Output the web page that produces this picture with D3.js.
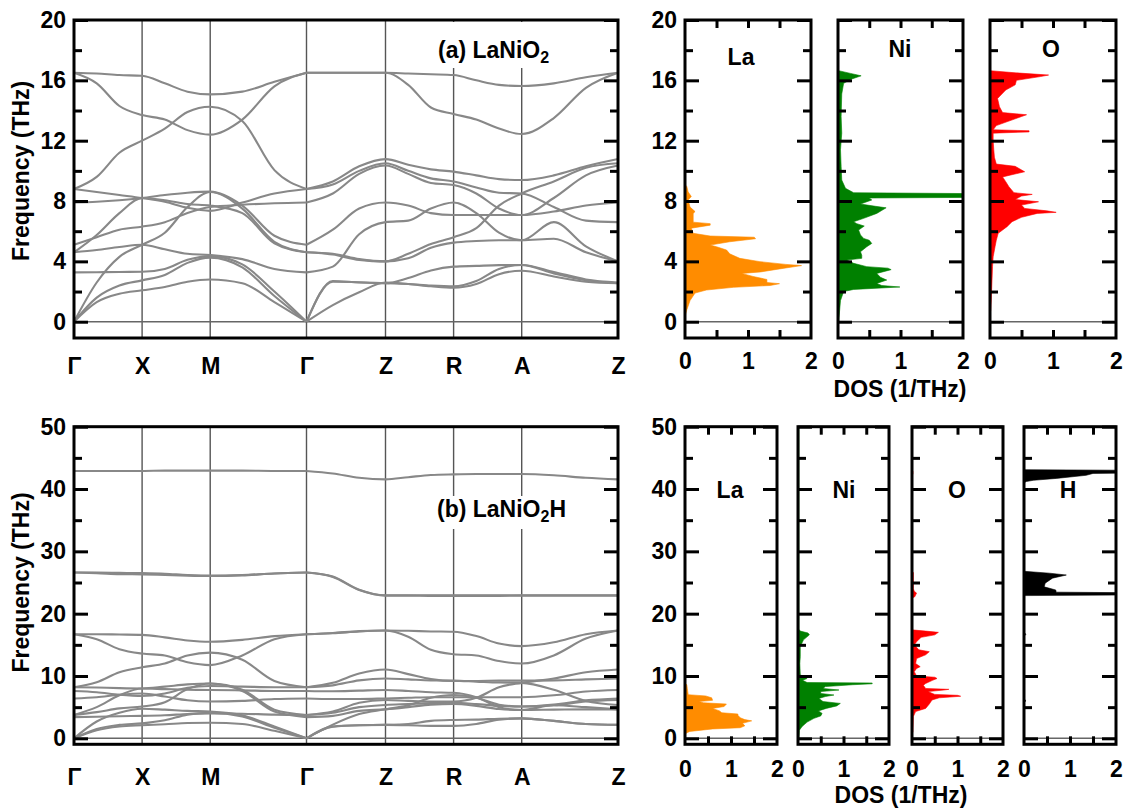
<!DOCTYPE html>
<html><head><meta charset="utf-8">
<script src="https://cdn.jsdelivr.net/npm/d3@7"></script>
<style>
body{margin:0;background:#fff}
text{font-family:"Liberation Sans",Arial,sans-serif;font-weight:bold;fill:#000}
</style>
</head><body>
<svg id="c" width="1128" height="809"></svg>
<script>
// ---------- DATA ----------
const kLabels = ["Γ","X","M","Γ","Z","R","A","Z"];
const kPos = [0, 0.5, 1.0, 1.707, 2.287, 2.787, 3.287, 3.994];

// LaNiO2 phonon branches (THz), sampled at each high-symmetry point and two points in between
const bandsA = [
 [16.5,16.45,16.35,16.3, 15.8,15.25,15.07, 15.25,15.9,16.5, 16.5,16.5,16.5, 16.45,16.4,16.35, 16.0,15.7,15.62, 15.8,16.2,16.5],
 [16.5,15.8,14.3,13.7, 13.4,12.7,12.4, 13.4,15.6,16.5, 16.5,16.5,16.5, 15.7,14.2,13.77, 13.4,12.8,12.44, 13.5,15.5,16.5],
 [8.8,9.6,11.2,12.0, 12.8,13.9,14.25, 13.3,10.05,8.8, 9.3,10.3,10.78, 10.4,10.1,9.95, 9.7,9.45,9.39, 9.7,10.3,10.78],
 [8.8,8.6,8.4,8.2, 7.95,7.55,7.35, 7.9,8.5,8.8, 9.1,10.0,10.5, 10.0,9.5,9.3, 8.9,8.55,8.5, 7.6,6.7,6.6],
 [7.9,7.95,8.05,8.2, 8.4,8.55,8.62, 7.7,5.7,5.1, 6.1,7.5,7.9, 7.7,7.2,7.07, 7.07,7.07,7.07, 7.3,7.7,7.9],
 [5.1,5.6,6.1,6.3, 6.6,7.2,7.6, 7.75,7.85,7.9, 8.5,9.8,10.35, 9.8,9.2,9.06, 8.5,7.5,7.07, 8.2,9.7,10.35],
 [4.6,5.75,7.2,8.2, 8.05,7.8,7.7, 7.2,5.2,4.6, 4.5,4.15,4.0, 4.5,5.15,5.6, 6.2,7.7,8.5, 9.3,10.2,10.5],
 [4.6,4.75,4.95,5.1, 4.8,4.5,4.42, 4.15,3.5,3.27, 3.65,5.8,6.6, 6.7,7.5,7.9, 7.2,5.9,5.4, 6.6,5.0,4.0],
 [3.27,3.28,3.3,3.31, 3.5,4.1,4.35, 3.8,2.0,0, 2.7,2.6,2.55, 2.9,3.4,3.65, 3.7,3.75,3.76, 3.3,2.8,2.6],
 [0,2.6,4.3,5.1, 5.9,7.6,8.6, 7.5,5.3,4.6, 4.45,4.1,4.0, 4.2,4.9,5.24, 5.35,5.4,5.4, 5.5,4.6,4.0],
 [0,1.6,2.4,2.74, 3.1,3.9,4.25, 3.6,1.7,0, 2.65,2.62,2.55, 2.5,2.4,2.35, 2.7,3.5,3.76, 3.2,2.75,2.55],
 [0,1.3,1.85,2.08, 2.3,2.65,2.8, 2.55,1.3,0, 1.1,1.95,2.6, 2.5,2.35,2.25, 2.5,3.15,3.38, 3.0,2.65,2.55]
];

// LaNiO2H phonon branches (THz)
const bandsB = [
 [16.7,16.7,16.65,16.6, 16.2,15.7,15.5, 15.8,16.4,16.7, 16.9,17.2,17.3, 17.25,17.15,17.1, 16.4,15.2,14.8, 15.4,16.7,17.3],
 [16.7,15.9,14.3,13.6, 13.3,12.2,11.75, 13.3,15.9,16.7, 16.85,17.15,17.3, 16.3,14.2,13.5, 13.3,12.4,12.0, 13.3,16.0,17.3],
 [8.2,9.0,10.6,11.4, 12.0,13.3,13.75, 12.6,9.2,8.2, 8.9,10.4,11.05, 10.3,9.5,9.2, 9.2,9.25,9.25, 9.3,9.45,9.6],
 [8.2,8.15,8.05,8.0, 8.3,8.65,8.8, 7.8,4.6,3.75, 4.3,5.7,6.15, 6.0,5.9,5.9, 6.5,8.2,8.9, 9.6,10.6,11.05],
 [7.6,7.4,7.0,6.8, 7.2,8.1,8.4, 8.3,8.2,8.2, 8.5,9.3,9.6, 9.45,9.3,9.25, 9.1,8.95,8.9, 7.8,6.0,5.35],
 [6.4,6.6,7.0,7.2, 6.7,6.1,5.9, 6.0,6.3,6.4, 6.3,6.3,6.4, 6.5,6.6,6.6, 6.6,6.6,6.6, 6.9,7.5,7.75],
 [3.75,5.0,6.9,8.0, 7.9,7.8,7.75, 7.7,7.6,7.6, 7.55,7.65,7.75, 7.6,7.4,7.3, 6.6,5.0,4.55, 5.3,5.0,4.65],
 [3.75,4.2,4.8,5.1, 5.8,7.9,8.8, 7.6,4.3,3.4, 3.6,4.4,4.65, 5.0,5.4,5.5, 5.2,4.7,4.55, 4.6,4.65,4.65],
 [3.4,3.45,3.55,3.6, 3.7,3.9,4.0, 3.95,3.8,3.75, 4.1,5.0,5.35, 5.5,5.65,5.7, 5.5,5.2,5.1, 5.3,5.9,6.15],
 [0,2.7,4.1,4.75, 4.6,4.4,4.3, 3.7,1.9,0, 2.2,3.9,4.65, 5.3,6.5,6.95, 6.5,5.4,5.1, 5.4,6.1,6.4],
 [0,1.5,2.15,2.4, 2.9,3.8,4.1, 3.5,1.7,0, 1.9,2.1,2.15, 2.3,2.8,2.95, 3.0,3.15,3.2, 2.8,2.3,2.15],
 [0,1.3,1.9,2.1, 2.25,2.45,2.5, 2.3,1.2,0, 1.85,2.1,2.15, 2.1,2.0,2.0, 2.3,3.0,3.2, 2.8,2.3,2.15],
 [26.6,26.6,26.55,26.5, 26.4,26.2,26.1, 26.2,26.45,26.6, 25.95,23.85,22.95, 22.95,22.95,22.95, 22.95,22.95,22.95, 22.95,22.95,22.95],
 [26.6,26.5,26.35,26.3, 26.2,26.1,26.05, 26.15,26.45,26.6, 25.9,23.8,22.9, 22.9,22.85,22.85, 22.85,22.85,22.9, 22.9,22.9,22.9],
 [42.9,42.9,42.9,42.9, 42.95,42.95,42.95, 42.95,42.9,42.9, 42.5,41.8,41.55, 41.9,42.25,42.35, 42.4,42.4,42.4, 42.2,41.8,41.55]
];

// Projected DOS: [frequency (THz), DOS (1/THz)]
const dosLaA = [[0,0],[0.5,0.01],[0.8,0.03],[1.4,0.08],[1.9,0.16],[2.1,0.34],[2.28,0.77],[2.4,1.35],[2.52,1.5],[2.6,1.3],[2.8,1.3],[3.0,1.08],[3.2,0.9],[3.3,1.2],[3.5,1.5],[3.72,1.85],[3.8,1.6],[3.98,1.19],[4.2,0.87],[4.5,0.71],[4.75,0.66],[4.97,0.5],[5.08,0.4],[5.3,0.71],[5.5,1.12],[5.6,1.1],[5.68,0.4],[5.86,0.13],[6.2,0.1],[6.4,0.4],[6.5,0.4],[6.6,0.13],[7.18,0.13],[7.3,0.16],[7.6,0.08],[8.07,0.05],[8.3,0.1],[8.6,0.05],[8.95,0.03],[9.1,0]];
const dosNiA = [[0,0.01],[1.4,0.04],[2.0,0.09],[2.14,0.25],[2.3,0.99],[2.4,0.7],[2.54,0.62],[2.76,0.78],[2.94,0.68],[3.2,0.62],[3.45,0.85],[3.55,0.8],[3.65,0.46],[3.87,0.25],[4.09,0.14],[4.2,0.38],[4.4,0.38],[4.64,0.36],[4.97,0.46],[5.19,0.54],[5.4,0.5],[5.52,0.41],[5.75,0.36],[6.08,0.33],[6.34,0.42],[6.5,0.3],[6.63,0.25],[6.85,0.41],[7.18,0.62],[7.55,0.77],[7.65,0.6],[7.8,0.36],[8.07,0.54],[8.2,0.5],[8.25,2.5],[8.48,2.5],[8.55,0.25],[8.84,0.12],[9.39,0.06],[10.3,0.05],[11.4,0.04],[12.5,0.06],[13.6,0.05],[15.1,0.06],[15.8,0.09],[16.06,0.2],[16.3,0.37],[16.46,0.2],[16.64,0.01],[16.7,0]];
const dosOA = [[0.6,0],[0.7,0.01],[1.44,0.02],[3.65,0.04],[4.3,0.05],[4.97,0.08],[5.4,0.1],[5.86,0.13],[6.08,0.2],[6.3,0.27],[6.63,0.35],[6.92,0.5],[7.18,0.75],[7.25,1.05],[7.35,0.9],[7.51,0.55],[7.73,0.5],[7.95,0.77],[8.1,0.4],[8.33,0.5],[8.44,0.67],[8.55,0.38],[8.95,0.3],[9.28,0.25],[9.6,0.2],[9.94,0.55],[10.3,0.4],[10.45,0.1],[10.9,0.07],[11.4,0.06],[12.0,0.05],[12.5,0.05],[12.58,0.62],[12.66,0.62],[12.72,0.05],[13.0,0.1],[13.6,0.5],[13.72,0.58],[13.86,0.2],[14.25,0.15],[14.8,0.12],[15.36,0.25],[15.7,0.4],[16.0,0.42],[16.25,0.8],[16.35,0.93],[16.5,0.4],[16.64,0]];

const dosLaB = [[0.6,0],[0.8,0.02],[1.1,0.1],[1.5,0.6],[1.7,1.2],[2.0,1.3],[2.4,1.25],[2.6,1.35],[2.8,1.45],[3.0,1.3],[3.3,1.2],[3.7,1.15],[3.9,1.15],[4.1,0.8],[4.4,0.75],[4.8,0.6],[5.1,0.85],[5.5,0.9],[5.7,0.4],[5.9,0.3],[6.1,0.6],[6.5,0.58],[6.8,0.45],[7.0,0.07],[7.5,0.06],[8.0,0.05],[8.6,0.04],[8.8,0]];
const dosNiB = [[0,0.02],[1.3,0.03],[1.9,0.09],[2.6,0.2],[3.2,0.35],[3.6,0.5],[4.0,0.53],[4.4,0.45],[4.8,0.62],[5.2,0.85],[5.6,0.93],[5.9,0.55],[6.4,0.46],[6.7,0.6],[6.95,0.79],[7.2,0.5],[7.5,0.5],[7.75,0.9],[8.0,0.55],[8.3,0.6],[8.6,1.2],[8.75,1.63],[8.88,1.63],[8.95,0.2],[9.3,0.1],[9.6,0.2],[10.2,0.05],[12,0.04],[13.1,0.05],[14.7,0.05],[15.8,0.12],[16.6,0.25],[16.9,0.22],[17.2,0.05],[17.5,0.02],[50,0.02]];
const dosOB = [[0.8,0],[1.0,0.02],[3.5,0.03],[4.3,0.08],[4.8,0.3],[5.5,0.38],[6.15,0.44],[6.5,0.6],[6.75,1.07],[6.9,1.0],[7.05,0.5],[7.5,0.35],[7.75,0.7],[7.86,0.81],[8.0,0.3],[8.5,0.25],[8.8,0.3],[9.3,0.45],[9.6,0.55],[9.8,0.5],[10.0,0.1],[10.7,0.05],[11.2,0.1],[11.5,0.18],[12.0,0.08],[12.8,0.1],[13.4,0.3],[13.9,0.38],[14.2,0.15],[15.0,0.05],[15.5,0.1],[16.2,0.2],[16.6,0.5],[17.0,0.58],[17.2,0.3],[17.4,0],[22.5,0],[22.7,0.06],[23.3,0.1],[23.6,0.05],[24,0.03],[26.6,0.03],[26.8,0],[42.2,0],[42.4,0.02],[42.8,0.02],[43.0,0]];
const dosHB = [[0,0.01],[5.8,0.01],[6.0,0.04],[6.3,0.01],[16.4,0.01],[16.7,0.04],[17.0,0],[22.9,0],[23.0,2.5],[23.35,2.5],[23.45,0.7],[23.8,0.69],[24.3,0.44],[24.9,0.46],[25.7,0.62],[26.2,0.92],[26.5,0.55],[26.8,0],[41.0,0],[41.2,0.05],[41.4,0.2],[41.7,0.7],[42.2,1.35],[42.5,1.5],[42.6,2.5],[43.0,2.5],[43.1,0]];

const elementsA = ["La","Ni","O"];
const elementsB = ["La","Ni","O","H"];
const colorsA = ["#ff8c00","#008000","#ff0000"];
const colorsB = ["#ff8c00","#008000","#ff0000","#000000"];
const freqMajorA = [0,4,8,12,16,20], freqMinorA = [2,6,10,14,18];
const freqMajorB = [0,10,20,30,40,50], freqMinorB = [5,15,25,35,45];
const dosTickLabels = [0,1,2], dosMinorTicks = [0.5,1,1.5];

// ---------- DRAWING ----------
const svg = d3.select("#c");
const FS = 23;
const kSample = d3.range(22).map(i => {
  if (i === 21) return kPos[7];
  const s = Math.floor(i/3), f = (i%3)/3;
  return kPos[s] + f*(kPos[s+1]-kPos[s]);
});
let clipId = 0;

function styleAxis(g){
  g.select(".domain").remove();
  g.selectAll(".tick line").attr("stroke","#000").attr("stroke-width",3);
  g.selectAll(".tick text").attr("font-size",FS).attr("font-weight","bold")
    .attr("font-family","'Liberation Sans',Arial,sans-serif").attr("fill","#000");
}

function yTicks(g, y, x0, x1, major, minor, labels){
  const gl = g.append("g").attr("transform",`translate(${x0},0)`)
    .call(d3.axisLeft(y).tickValues(major).tickSize(-14).tickPadding(8)
      .tickFormat(labels ? d3.format("d") : ""));
  styleAxis(gl);
  styleAxis(g.append("g").attr("transform",`translate(${x0},0)`)
    .call(d3.axisLeft(y).tickValues(minor).tickSize(-8).tickFormat("")));
  styleAxis(g.append("g").attr("transform",`translate(${x1},0)`)
    .call(d3.axisRight(y).tickValues(major).tickSize(-14).tickFormat("")));
  styleAxis(g.append("g").attr("transform",`translate(${x1},0)`)
    .call(d3.axisRight(y).tickValues(minor).tickSize(-8).tickFormat("")));
}

function bandPanel(o){
  const g = svg.append("g");
  const x = d3.scaleLinear().domain([kPos[0], kPos[7]]).range([o.x0, o.x1]);
  const y = d3.scaleLinear().domain(o.yDomain).range([o.y1, o.y0]);
  g.selectAll("line.k").data(kPos.slice(1,-1)).join("line")
    .attr("x1",d=>x(d)).attr("x2",d=>x(d)).attr("y1",o.y0).attr("y2",o.y1)
    .attr("stroke","#555").attr("stroke-width",1.4);
  g.append("line").attr("x1",o.x0).attr("x2",o.x1).attr("y1",y(0)).attr("y2",y(0))
    .attr("stroke","#666").attr("stroke-width",1.5);
  const line = d3.line().x(d=>x(d[0])).y(d=>y(d[1])).curve(d3.curveMonotoneX);
  o.bands.forEach(b=>{
    const pts = b.map((v,i)=>[kSample[i], v]);
    [pts.slice(0,10), pts.slice(9)].forEach(p=>{
      g.append("path").attr("d", line(p)).attr("fill","none")
        .attr("stroke","#888").attr("stroke-width",2.1);
    });
  });
  // title with white background
  g.append("rect").attr("x",o.box[0]).attr("y",o.box[1]).attr("width",o.box[2]).attr("height",o.box[3]).attr("fill","#fff");
  const t = g.append("text").attr("x",o.titleX).attr("y",o.titleY).attr("font-size",FS);
  t.append("tspan").text(o.title[0]);
  t.append("tspan").attr("font-size",16).attr("dy",5).text("2");
  if (o.title[1]) t.append("tspan").attr("font-size",FS).attr("dy",-5).text(o.title[1]);
  // frame
  g.append("rect").attr("x",o.x0).attr("y",o.y0).attr("width",o.x1-o.x0).attr("height",o.y1-o.y0)
    .attr("fill","none").attr("stroke","#000").attr("stroke-width",3);
  yTicks(g, y, o.x0, o.x1, o.major, o.minor, true);
  const xa = g.append("g").attr("transform",`translate(0,${o.y1})`)
    .call(d3.axisBottom(x).tickValues(kPos).tickSize(0).tickPadding(o.xPad).tickFormat((d,i)=>kLabels[i]));
  styleAxis(xa);
  g.append("text").attr("transform",`translate(28.5,${y(o.yDomain[1]/2)}) rotate(-90)`)
    .attr("text-anchor","middle").attr("font-size",FS).text("Frequency (THz)");
}

function dosPanel(o){
  const g = svg.append("g");
  const x = d3.scaleLinear().domain([0,2]).range([o.x0,o.x1]);
  const y = d3.scaleLinear().domain(o.yDomain).range([o.y1,o.y0]);
  const id = "clip"+(clipId++);
  svg.append("clipPath").attr("id",id).append("rect")
    .attr("x",o.x0).attr("y",o.y0).attr("width",o.x1-o.x0).attr("height",o.y1-o.y0);
  const area = d3.area().y(d=>y(d[0])).x0(x(0)).x1(d=>x(d[1])).curve(d3.curveLinear);
  g.append("path").attr("clip-path",`url(#${id})`).attr("d",area(o.data))
    .attr("fill",o.color).attr("stroke",o.color).attr("stroke-width",0.6);
  g.append("line").attr("x1",o.x0).attr("x2",o.x1).attr("y1",y(0)).attr("y2",y(0))
    .attr("stroke","#666").attr("stroke-width",1.5);
  g.append("rect").attr("x",o.x0).attr("y",o.y0).attr("width",o.x1-o.x0).attr("height",o.y1-o.y0)
    .attr("fill","none").attr("stroke","#000").attr("stroke-width",3);
  yTicks(g, y, o.x0, o.x1, o.major, o.minor, o.showY);
  styleAxis(g.append("g").attr("transform",`translate(0,${o.y1})`)
    .call(d3.axisBottom(x).tickValues(dosMinorTicks).tickSize(-8).tickFormat("")));
  styleAxis(g.append("g").attr("transform",`translate(0,${o.y0})`)
    .call(d3.axisTop(x).tickValues(dosMinorTicks).tickSize(-8).tickFormat("")));
  styleAxis(g.append("g").attr("transform",`translate(0,${o.y1})`)
    .call(d3.axisBottom(x).tickValues(dosTickLabels).tickSize(0).tickPadding(o.xPad).tickFormat(d3.format("d"))));
  g.append("text").attr("x",o.labelX).attr("y",o.labelY).attr("text-anchor","middle")
    .attr("font-size",FS).text(o.label);
}

// top band structure
bandPanel({x0:74,x1:618,y0:20,y1:338,yDomain:[-1.08,20],bands:bandsA,major:freqMajorA,minor:freqMinorA,
  title:["(a) LaNiO",""],titleX:438,titleY:58,box:[432,22,130,46],xPad:20});
// bottom band structure
bandPanel({x0:74,x1:618,y0:426.7,y1:744.3,yDomain:[-0.96,50],bands:bandsB,major:freqMajorB,minor:freqMinorB,
  title:["(b) LaNiO","H"],titleX:437,titleY:517,box:[430,496,145,33],xPad:24});

// top DOS
const dosA = [dosLaA,dosNiA,dosOA];
const xA = [[685,811],[838,963],[990,1116]];
const labA = [[741,65],[900,57],[1051,57]];
elementsA.forEach((el,i)=>dosPanel({x0:xA[i][0],x1:xA[i][1],y0:20,y1:338,yDomain:[-1.08,20],
  data:dosA[i],color:colorsA[i],major:freqMajorA,minor:freqMinorA,showY:i===0,
  label:el,labelX:labA[i][0],labelY:labA[i][1],xPad:15}));
svg.append("text").attr("x",900).attr("y",397).attr("text-anchor","middle").attr("font-size",FS).text("DOS (1/THz)");

// bottom DOS
const dosB = [dosLaB,dosNiB,dosOB,dosHB];
const xB = [[685,777],[798,889],[912,1003],[1024,1116]];
const labB = [730,844,957,1068];
elementsB.forEach((el,i)=>dosPanel({x0:xB[i][0],x1:xB[i][1],y0:426.7,y1:744.3,yDomain:[-0.96,50],
  data:dosB[i],color:colorsB[i],major:freqMajorB,minor:freqMinorB,showY:i===0,
  label:el,labelX:labB[i],labelY:498,xPad:16}));
svg.append("text").attr("x",901).attr("y",803).attr("text-anchor","middle").attr("font-size",FS).text("DOS (1/THz)");
</script>
</body></html>
